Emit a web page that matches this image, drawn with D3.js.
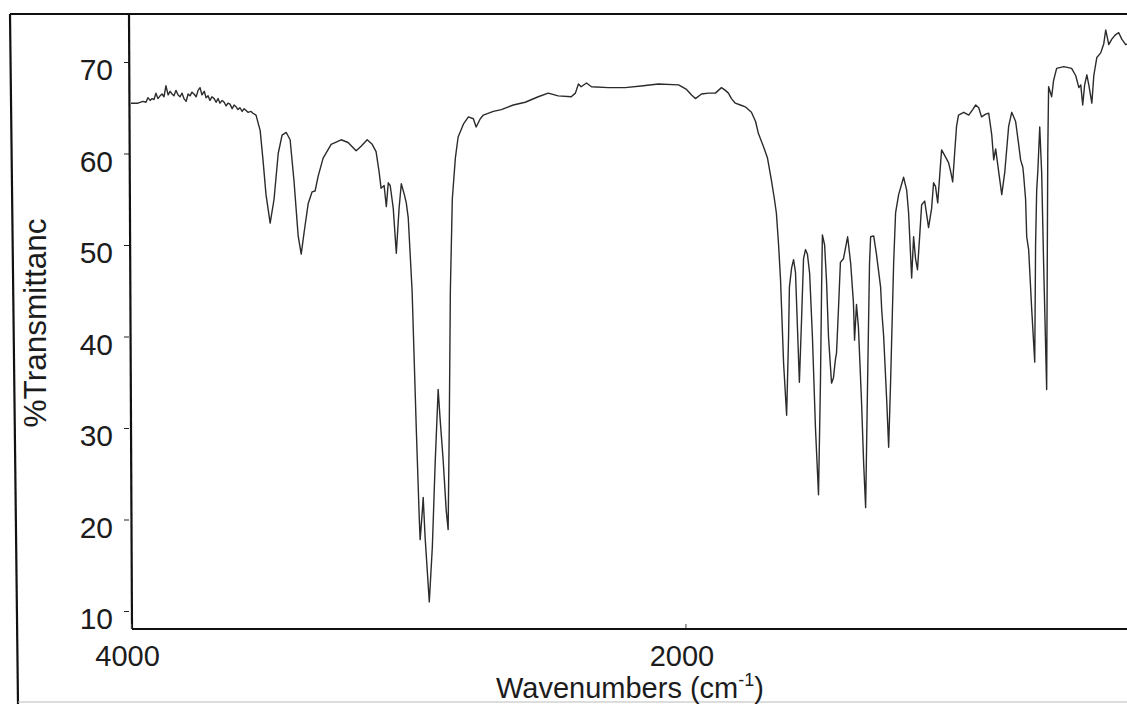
<!DOCTYPE html>
<html><head><meta charset="utf-8">
<script src="https://cdn.jsdelivr.net/npm/d3@7"></script>
<style>
body{margin:0;background:#fff}
svg{display:block}
text{font-family:"Liberation Sans",Arial,sans-serif;fill:#1c1c1c}
</style>
</head><body><svg id="c" width="1127" height="704"></svg>
<script>
// Wavenumber (cm-1) and %Transmittance
const wavenumbers = [
4000,3975,3957,3946,3939,3931,3924,3917,3910,3903,3895,3888,3881,3874,3866,3859,3852,3845,3838,3830,
3823,3816,3809,3801,3794,3787,3780,3773,3765,3758,3751,3744,3736,3729,3722,3715,3708,3700,3693,3686,
3679,3671,3664,3657,3650,3643,3635,3628,3621,3614,3607,3599,3592,3585,3578,3567,3560,
3549,3534,3523,3513,3498,3484,3469,3455,3440,3426,3412,3397,3386,3375,3361,3347,3336,3325,3307,3278,
3242,3217,3188,3170,3148,3130,3116,3105,3098,3087,3079,3072,3065,3054,3043,3033,3025,3014,3007,3000,
2986,2971,2960,2957,2949,2946,2939,2924,2913,2903,2892,2885,2874,2863,2856,2852,2848,2841,2830,2820,
2801,2783,2765,2755,2740,2729,2693,2664,2621,2578,2531,2495,2459,2412,2397,2386,2376,2357,2339,2278,
2217,2152,2098,2025,1996,1978,1964,1942,1917,1892,1870,1856,1845,1834,1820,1802,1784,1762,1747,1737,
1718,1704,1690,1679,1672,1664,1657,1646,1635,1628,1625,1617,1610,1603,1596,1589,1581,1574,1567,1560,
1552,1542,1531,1520,1513,1509,1506,1498,1491,1484,1473,1466,1459,1455,1448,1441,1430,1415,1404,1394,
1390,1383,1376,1365,1357,1350,1343,1336,1332,1321,1311,1296,1292,1285,1274,1267,1260,1249,1242,1231,
1213,1202,1195,1184,1177,1170,1163,1155,1148,1137,1123,1112,1105,1098,1090,1083,1076,1065,1051,1043,
1036,1029,1022,1015,996,978,964,953,942,932,917,906,895,888,881,870,859,848,834,823,
809,798,791,783,780,773,769,762,751,740,737,733,729,722,718,715,708,697,693,690,
682,679,672,661,635,607,592,581,574,567,560,552,545,534,527,516,502,491,484,477,
473,462,448,437,426,412,400
];
const transmittance = [
65.5,65.5,65.7,65.6,66.1,65.8,66.0,65.9,66.6,66.0,66.3,66.5,66.2,67.4,66.4,66.8,66.5,66.3,66.9,66.4,
66.2,66.6,66.0,65.7,66.5,66.3,66.7,66.5,66.2,66.9,67.2,66.4,66.8,66.1,66.3,65.8,66.2,66.0,65.6,66.0,
65.5,65.8,65.6,65.2,65.5,65.4,64.9,65.3,65.1,64.8,65.0,64.6,64.9,64.7,64.5,64.6,64.4,
64.2,62.5,59.0,55.5,52.4,55.0,60.0,62.0,62.3,61.5,57.0,51.0,49.0,51.5,54.5,55.8,55.9,57.5,59.5,61.0,
61.5,61.2,60.3,60.8,61.5,61.0,60.2,58.0,56.2,56.5,54.2,56.8,56.5,54.0,49.1,54.0,56.7,55.5,54.6,53.0,
45.0,30.0,20.0,17.8,21.0,22.4,18.0,11.0,17.0,26.0,34.2,31.0,26.5,21.0,18.9,30.0,45.0,55.0,59.5,61.8,
63.2,64.0,63.8,62.9,63.8,64.2,64.6,64.8,65.3,65.6,66.2,66.6,66.3,66.2,66.6,67.6,67.3,67.7,67.3,67.2,
67.2,67.4,67.6,67.5,67.0,66.4,66.0,66.5,66.6,66.6,67.2,66.9,66.6,66.0,65.5,65.3,65.1,64.5,63.5,62.2,
60.7,59.5,57.1,55.0,53.5,50.0,46.2,37.1,31.4,40.0,45.4,47.5,48.4,47.0,41.0,35.0,42.0,48.5,49.5,49.0,
46.9,40.0,30.0,22.7,35.0,45.0,51.1,50.0,46.0,40.0,34.9,35.5,37.5,38.2,43.0,48.1,48.5,50.9,48.0,43.7,
39.6,43.5,41.0,33.0,26.0,21.3,35.0,48.0,50.9,51.0,49.0,45.4,42.9,40.0,33.0,27.9,35.0,48.0,53.5,55.5,
57.4,56.0,53.5,46.4,50.9,48.5,47.3,51.0,54.4,54.8,51.9,54.0,56.8,56.4,54.6,57.5,60.4,59.8,59.0,58.0,
56.9,60.0,63.0,64.2,64.5,64.2,64.8,65.3,65.0,64.0,64.3,64.4,62.0,59.3,60.5,58.0,55.5,58.0,63.0,64.5,
63.5,61.0,59.3,58.5,57.6,55.0,50.9,49.5,43.0,37.2,50.0,56.0,58.0,62.9,60.0,57.9,48.0,34.2,60.0,67.3,
66.5,66.2,68.0,69.3,69.5,69.3,68.5,67.2,67.5,65.3,67.5,68.6,67.5,65.5,68.5,70.5,71.0,72.0,73.5,72.5,
71.9,72.5,73.0,73.2,72.5,71.9,72.0
];
const yTicks = [10, 20, 30, 40, 50, 60, 70];
const xTicks = [4000, 2000];
const xTitle = "Wavenumbers (cm";
const xTitleSup = "-1";
const xTitleEnd = ")";
const yTitle = "%Transmittanc";

const svg = d3.select("#c");
const W = 1127, H = 704;
const plotLeft = 129, plotTop = 14, plotBottom = 629;
const x = d3.scaleLinear().domain([4000, 400]).range([131, 1129]);
const y = d3.scaleLinear().domain([10, 70]).range([611, 62]);
const FONT = '"Liberation Sans", Arial, sans-serif';

// outer frame
svg.append("line").attr("x1", 10).attr("y1", 14).attr("x2", W).attr("y2", 14)
  .attr("stroke", "#111").attr("stroke-width", 2.2);
svg.append("line").attr("x1", 10).attr("y1", 14).attr("x2", 18).attr("y2", 704)
  .attr("stroke", "#111").attr("stroke-width", 2.2);
svg.append("line").attr("x1", 18).attr("y1", 702).attr("x2", W).attr("y2", 702)
  .attr("stroke", "#bbb").attr("stroke-width", 1);

// y axis
const yAxis = svg.append("g").attr("transform", `translate(${plotLeft},0)`)
  .call(d3.axisLeft(y).tickValues(yTicks).tickSize(5).tickFormat(d3.format("d")));
yAxis.select(".domain").remove();
yAxis.selectAll(".tick line").attr("stroke", "#222").attr("stroke-width", 1);
yAxis.selectAll(".tick text").attr("x", -16).attr("y", 8).attr("font-size", 30)
  .attr("font-family", FONT).attr("fill", "#1c1c1c");
svg.append("line").attr("x1", plotLeft).attr("y1", plotTop).attr("x2", plotLeft + 3).attr("y2", plotBottom)
  .attr("stroke", "#111").attr("stroke-width", 2.2);

// x axis
const xAxis = svg.append("g").attr("transform", `translate(0,${plotBottom})`)
  .call(d3.axisBottom(x).tickValues(xTicks).tickSize(-5).tickFormat(d3.format("d")));
xAxis.select(".domain").remove();
xAxis.selectAll(".tick line").attr("stroke", "#444").attr("stroke-width", 1);
xAxis.selectAll(".tick text").attr("x", -4).attr("y", 16).attr("font-size", 29)
  .attr("font-family", FONT).attr("fill", "#1c1c1c");
svg.append("line").attr("x1", plotLeft + 3).attr("y1", plotBottom).attr("x2", W).attr("y2", plotBottom)
  .attr("stroke", "#111").attr("stroke-width", 2.2);

// titles
const xt = svg.append("text").attr("x", 630).attr("y", 698).attr("text-anchor", "middle").attr("font-size", 29);
xt.append("tspan").text(xTitle);
xt.append("tspan").attr("font-size", 18).attr("dy", -12).text(xTitleSup);
xt.append("tspan").attr("dy", 12).text(xTitleEnd);

svg.append("text").attr("transform", "translate(46,323) rotate(-90)")
  .attr("text-anchor", "middle").attr("font-size", 31.5).text(yTitle);

// spectrum
const pts = wavenumbers.map((w, i) => [w, transmittance[i]]);
svg.append("path").datum(pts)
  .attr("fill", "none").attr("stroke", "#2b2b2b").attr("stroke-width", 1.4)
  .attr("stroke-linejoin", "round")
  .attr("d", d3.line().x(d => x(d[0])).y(d => y(d[1])));
</script>
</body></html>
